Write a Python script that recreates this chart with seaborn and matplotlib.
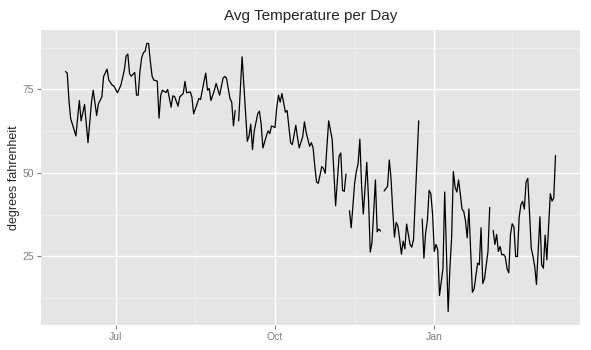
import numpy as np
import pandas as pd
import matplotlib
matplotlib.use("Agg")
import matplotlib.pyplot as plt
import matplotlib.dates as mdates
import seaborn as sns

# Data: day offsets from the first day, NaN = missing day (gap in line)
start_date = "2012-06-02"
day_offset = [
    0, 1, 2, 3, 4, 6, 8, 9, 11, 13, 15, 16, 18, 19, 21, 22, 24, 25, 27, 28,
    30, 32, 34, 35, 36, 37, 38, 40, 41, 42, 43, 44, 45, 46, 47, 48, 49, 50, 51, 52,
    53, 54, 55, 56, 58, 59, 61, 62, 63, 65, 66, 68, 69, 70, 72, 73, 74, 76, 77, 78,
    80, 81, 82, 83, 84, 86, 87, 89, 91, 92, 93, 94, 95, 96, 97, 98, 99, 100, 102, 104,
    105, 106, 107, 108, 109, 111, 112, 113, 114, 116, 117, 118, 119, 121, 122, 123, 124, 125, 127, 128,
    130, 131, 133, 134, 135, 137, 138, 139, 141, 142, 143, 144, 145, 146, 147, 148, 149, 150, 151, 152,
    154, 156, 158, 159, 160, 161, 162, 163, 164, 165, 167, 168, 169, 170, 171, 172, 174, 175, 176, 177,
    179, 180, 181, 182, 183, 184, 186, 187, 188, 189, 190, 191, 192, 193, 194, 195, 196, 197, 199, 200,
    201, 204, 205, 206, 207, 208, 209, 210, 211, 212, 213, 214, 215, 216, 218, 219, 221, 222, 223, 224,
    225, 226, 227, 228, 229, 230, 231, 232, 233, 235, 236, 238, 239, 240, 241, 242, 244, 245, 246, 247,
    248, 249, 250, 251, 252, 253, 254, 255, 256, 257, 258, 259, 260, 261, 262, 263, 264, 265, 266, 267,
    269, 270, 271, 272, 274, 275, 276, 277, 278, 280, 281, 282, 283,
]
avg_temp = [
    80.4, 79.9, 71.7, 66.2, 64.6, 61.1, 71.7, 65.6, 70.5, 59.1, 71.2, 74.8, 67.2, 70.7, 72.8, 78.9, 81.1, 77.8, 76.3, 76.0,
    74.0, 76.3, 80.9, 85.0, 85.6, 79.7, 79.0, 80.1, 73.3, 73.3, 80.5, 84.5, 86.0, 86.5, 88.8, 88.8, 83.4, 79.0, 77.8, 77.7,
    77.5, 66.4, 73.3, 74.8, 74.1, 75.0, 69.7, 73.1, 72.9, 70.0, 72.8, 73.8, 77.4, 74.0, 74.3, 72.8, 67.7, 70.7, 72.3, 72.0,
    77.4, 79.9, 74.8, 75.3, 71.7, 74.8, 76.8, 73.3, 78.4, 78.9, 78.4, 75.3, 72.3, 71.2, 64.1, 68.7, np.nan, 65.6, 84.8, 68.0,
    59.5, 61.1, 64.6, 57.0, 62.6, 67.7, 68.5, 64.6, 57.5, 61.1, 62.6, 61.8, 64.1, 63.6, 69.7, 73.3, 71.2, 73.8, 68.2, 68.7,
    59.1, 58.5, 64.3, 60.6, 57.5, 60.9, 65.3, 62.1, 58.0, 59.1, 57.5, 52.0, 47.3, 46.9, 49.4, 51.9, 51.4, 49.9, 58.0, 65.6,
    60.1, 40.2, 55.0, 56.0, 44.8, 44.5, 49.7, np.nan, 38.7, 33.6, 46.9, 50.6, 52.8, 60.1, 46.3, 37.7, 53.2, 42.3, 26.3, 29.1,
    47.9, 32.4, 33.2, 32.6, np.nan, 44.6, 46.0, 53.9, 48.4, 38.7, 30.8, 35.2, 34.0, 30.1, 25.7, 29.6, 27.3, 34.7, 28.6, 27.8,
    30.1, 65.6, np.nan, 36.2, 24.5, 32.1, 35.7, 44.8, 43.8, 37.7, 26.5, 28.6, 27.0, 13.3, 21.4, 44.3, 8.5, 21.4, 30.6, 50.4,
    45.8, 44.3, 47.9, 43.8, 39.2, 38.5, 35.7, 30.6, 39.2, 14.3, 15.3, 23.0, 22.5, 33.6, 16.9, 18.4, 26.5, 39.7, np.nan, 32.8,
    28.6, 31.6, 26.5, 28.0, 25.5, 25.6, 24.9, 21.4, 20.1, 31.6, 34.8, 33.8, 25.0, 25.0, 36.7, 40.5, 41.5, 39.2, 47.3, 48.4,
    27.5, 25.0, 22.0, 16.6, 36.9, 22.5, 21.5, 31.4, 24.0, 43.8, 41.6, 42.5, 55.2,
]
major_dates = ["2012-07-01", "2012-10-01", "2013-01-01"]
minor_dates = ["2012-08-16", "2012-11-16", "2013-02-15"]
y_major = [25, 50, 75]
y_minor = [12.5, 37.5, 62.5, 87.5]

df = pd.DataFrame({
    "date": pd.to_datetime(start_date) + pd.to_timedelta(day_offset, unit="D"),
    "temp": avg_temp,
})
# split the series at missing days so the line breaks there
df["segment"] = df["temp"].isna().cumsum()
df = df.dropna()

sns.set_theme(style="white")
plt.rcParams["font.family"] = ["Liberation Sans", "DejaVu Sans"]

fig, ax = plt.subplots(figsize=(5.91, 3.5), dpi=100)
fig.subplots_adjust(left=41 / 591, right=580 / 591, top=1 - 30 / 350, bottom=1 - 325 / 350)

ax.set_facecolor("#E5E5E5")
sns.lineplot(data=df, x="date", y="temp", units="segment", estimator=None,
             color="black", linewidth=0.9, ax=ax)

# ggplot-like 5% expansion
x0, x1 = df["date"].min(), df["date"].max()
pad = (x1 - x0) * 0.05
ax.set_xlim(x0 - pad, x1 + pad)
y0, y1 = df["temp"].min(), df["temp"].max()
ypad = (y1 - y0) * 0.05
ax.set_ylim(y0 - ypad, y1 + ypad)

ax.set_xticks(pd.to_datetime(major_dates))
ax.set_xticks(pd.to_datetime(minor_dates), minor=True)
ax.xaxis.set_major_formatter(mdates.DateFormatter("%b"))
ax.set_yticks(y_major)
ax.set_yticks(y_minor, minor=True)

ax.grid(which="major", color="white", linewidth=1.0)
ax.grid(which="minor", color="#F2F2F2", linewidth=0.5)
ax.set_axisbelow(True)
for s in ax.spines.values():
    s.set_visible(False)

ax.tick_params(which="major", length=3, width=0.8, color="#7F7F7F",
               labelcolor="#7F7F7F", labelsize=7.5, pad=2, bottom=True, left=True)
ax.tick_params(which="minor", length=0)

ax.set_title("Avg Temperature per Day", fontsize=11, pad=7)
ax.set_xlabel("")
ax.set_ylabel("degrees fahrenheit", fontsize=9, labelpad=2)

plt.savefig("out.png", dpi=100)
